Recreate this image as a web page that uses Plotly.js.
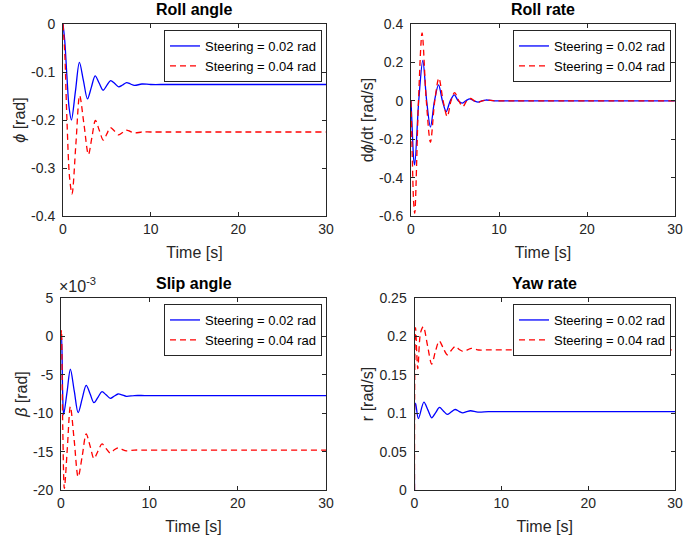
<!DOCTYPE html>
<html>
<head>
<meta charset="utf-8">
<script src="https://cdn.plot.ly/plotly-3.0.1.min.js"></script>
<style>html,body{margin:0;padding:0;background:#fff;}#chart{width:699px;height:542px;}</style>
</head>
<body>
<div id="chart"></div>
<script>
// ---- Data ----
const seriesNames = ["Steering = 0.02 rad", "Steering = 0.04 rad"];
const panelTitles = ["Roll angle", "Roll rate", "Slip angle", "Yaw rate"];
const timeTicks = [0, 10, 20, 30];

// Roll angle phi [rad]
const rollT_02 = [0, 0.2, 0.45, 0.7, 0.96, 1.42, 1.87, 2.33, 2.79, 3.23, 3.67, 4.12, 4.58, 5.0, 5.43, 5.9, 6.35, 6.8, 7.26, 7.7, 8.15, 9.0, 10, 12, 30];
const roll_02  = [0, -0.035, -0.11, -0.175, -0.2, -0.14, -0.08, -0.118, -0.156, -0.132, -0.108, -0.123, -0.138, -0.128, -0.118, -0.124, -0.131, -0.127, -0.122, -0.125, -0.128, -0.125, -0.126, -0.126, -0.126];
const rollT_04 = [0, 0.2, 0.45, 0.75, 1.03, 1.47, 1.9, 2.4, 2.9, 3.3, 3.7, 4.15, 4.6, 5.0, 5.4, 5.87, 6.35, 6.8, 7.2, 7.7, 8.2, 9.0, 10, 12, 30];
const roll_04  = [0, -0.06, -0.2, -0.32, -0.354, -0.25, -0.149, -0.21, -0.272, -0.236, -0.201, -0.222, -0.242, -0.229, -0.216, -0.223, -0.231, -0.226, -0.221, -0.224, -0.227, -0.225, -0.225, -0.225, -0.225];
const rollTicks = [0, -0.1, -0.2, -0.3, -0.4];
const rollTickText = ["0", "-0.1", "-0.2", "-0.3", "-0.4"];

// Roll rate dphi/dt [rad/s]
const rateT_02 = [0, 0.15, 0.3, 0.42, 0.88, 1.34, 1.78, 2.21, 2.67, 3.13, 3.57, 4.0, 4.46, 4.92, 5.36, 5.8, 6.24, 6.68, 7.15, 7.63, 8.05, 8.5, 9.5, 11, 30];
const rate_02  = [0, -0.16, -0.3, -0.334, 0, 0.21, 0, -0.137, 0, 0.083, 0, -0.056, 0, 0.031, 0, -0.012, 0, 0.01, 0, -0.007, 0, 0.004, 0, 0, 0];
const rateT_04 = [0, 0.15, 0.3, 0.42, 0.85, 1.26, 1.74, 2.21, 2.7, 3.17, 3.65, 4.12, 4.55, 4.96, 5.43, 5.9, 6.33, 6.76, 7.2, 7.65, 8.1, 8.6, 9.5, 11, 30];
const rate_04  = [0, -0.3, -0.53, -0.586, 0, 0.353, 0, -0.216, 0, 0.118, 0, -0.082, 0, 0.043, 0, -0.03, 0, 0.012, 0, -0.008, 0, 0.004, 0, 0, 0];
const rateTicks = [0.4, 0.2, 0, -0.2, -0.4, -0.6];
const rateTickText = ["0.4", "0.2", "0", "-0.2", "-0.4", "-0.6"];

// Slip angle beta [rad]
const slipT_02 = [0, 0.05, 0.18, 0.3, 0.68, 1.06, 1.5, 1.94, 2.4, 2.85, 3.3, 3.73, 4.2, 4.64, 5.1, 5.59, 6.0, 6.46, 6.9, 7.4, 8.3, 9.5, 12, 30];
const slip_02  = [0, 0.0002, -0.007, -0.0102, -0.0073, -0.00428, -0.0071, -0.00993, -0.0081, -0.00637, -0.0075, -0.00863, -0.0079, -0.0072, -0.0076, -0.00807, -0.0078, -0.0075, -0.0076, -0.0078, -0.0077, -0.0077, -0.0077, -0.0077];
const slipT_04 = [0, 0.05, 0.2, 0.38, 0.72, 1.06, 1.5, 1.94, 2.4, 2.85, 3.3, 3.73, 4.2, 4.64, 5.1, 5.59, 6.0, 6.46, 6.9, 7.4, 8.3, 9.5, 12, 30];
const slip_04  = [0, 0.0008, -0.012, -0.0198, -0.0145, -0.00915, -0.0136, -0.0183, -0.0156, -0.0127, -0.0143, -0.0159, -0.0149, -0.014, -0.0146, -0.0152, -0.0148, -0.0145, -0.0147, -0.0149, -0.0148, -0.0148, -0.0148, -0.0148];
const slipTicks = [0.005, 0, -0.005, -0.01, -0.015, -0.02];
const slipTickText = ["5", "0", "-5", "-10", "-15", "-20"];

// Yaw rate r [rad/s]
const yawT_02 = [0, 0.12, 0.45, 1.08, 1.55, 1.98, 2.42, 2.88, 3.32, 3.76, 4.22, 4.68, 5.12, 5.56, 6.0, 6.45, 7.3, 8.5, 10, 30];
const yaw_02  = [0, 0.113, 0.093, 0.1145, 0.104, 0.094, 0.1005, 0.1075, 0.103, 0.0985, 0.1015, 0.1048, 0.1025, 0.1005, 0.102, 0.1032, 0.1015, 0.102, 0.102, 0.102];
const yawT_04 = [0, 0.12, 0.38, 0.7, 1.02, 1.5, 1.98, 2.4, 2.85, 3.3, 3.78, 4.25, 4.72, 5.15, 5.6, 6.1, 6.55, 7.4, 8.5, 10, 30];
const yaw_04  = [0, 0.2115, 0.158, 0.205, 0.2125, 0.188, 0.164, 0.18, 0.194, 0.185, 0.176, 0.182, 0.187, 0.183, 0.1805, 0.1825, 0.1845, 0.1823, 0.1825, 0.1825, 0.1825];
const yawTicks = [0, 0.05, 0.1, 0.15, 0.2, 0.25];
const yawTickText = ["0", "0.05", "0.1", "0.15", "0.2", "0.25"];

// ---- Styling ----
const W = 699, H = 542;
const FONT = "Liberation Sans, Arial, Helvetica, sans-serif";
const AX = "#262626";
const px = v => v / W;
const py = v => 1 - v / H;

// plot areas in pixels: [left, right, top, bottom]
const areas = [[63, 326, 24, 216], [411, 675, 24, 216], [61, 326, 298, 490], [414.5, 675, 298, 490]];

const blueLine = {color: "#0000ff", width: 1.3};
const redLine = {color: "#ff0000", width: 1.3, dash: "6px,4px"};

const sets = [
  [rollT_02, roll_02, rollT_04, roll_04],
  [rateT_02, rate_02, rateT_04, rate_04],
  [slipT_02, slip_02, slipT_04, slip_04],
  [yawT_02, yaw_02, yawT_04, yaw_04]
];
const legendIds = ["legend", "legend2", "legend3", "legend4"];
const traces = [];
sets.forEach((s, i) => {
  const sfx = i === 0 ? "" : String(i + 1);
  traces.push({x: s[0], y: s[1], type: "scatter", mode: "lines", name: seriesNames[0],
    line: Object.assign({shape: "spline", smoothing: 0.9}, blueLine), xaxis: "x" + sfx, yaxis: "y" + sfx, legend: legendIds[i]});
  traces.push({x: s[2], y: s[3], type: "scatter", mode: "lines", name: seriesNames[1],
    line: Object.assign({shape: "spline", smoothing: 0.9}, redLine), xaxis: "x" + sfx, yaxis: "y" + sfx, legend: legendIds[i]});
});

const yInfo = [
  {range: [-0.4, 0], tv: rollTicks, tt: rollTickText, title: "<i>ϕ</i> [rad]"},
  {range: [-0.6, 0.4], tv: rateTicks, tt: rateTickText, title: "d<i>ϕ</i>/dt [rad/s]"},
  {range: [-0.02, 0.005], tv: slipTicks, tt: slipTickText, title: "<i>β</i> [rad]"},
  {range: [0, 0.25], tv: yawTicks, tt: yawTickText, title: "r [rad/s]"}
];

const layout = {
  width: W, height: H,
  margin: {l: 0, r: 0, t: 0, b: 0, pad: 0},
  paper_bgcolor: "#ffffff", plot_bgcolor: "#ffffff",
  font: {family: FONT, size: 14, color: AX},
  showlegend: true,
  annotations: []
};

areas.forEach((a, i) => {
  const sfx = i === 0 ? "" : String(i + 1);
  layout["xaxis" + sfx] = {
    domain: [px(a[0]), px(a[1])], anchor: "y" + sfx, range: [0, 30],
    tickmode: "array", tickvals: timeTicks, ticktext: timeTicks.map(String),
    ticks: "inside", ticklen: 4, tickcolor: AX, tickwidth: 1,
    showline: true, linecolor: AX, linewidth: 1, mirror: "ticks",
    showgrid: false, zeroline: false, automargin: false,
    tickfont: {family: FONT, size: 14, color: AX},
    title: {text: "Time [s]", font: {family: FONT, size: 16, color: AX}, standoff: 11}
  };
  layout["yaxis" + sfx] = {
    domain: [py(a[3]), py(a[2])], anchor: "x" + sfx, range: yInfo[i].range,
    tickmode: "array", tickvals: yInfo[i].tv, ticktext: yInfo[i].tt,
    ticks: "inside", ticklen: 4, tickcolor: AX, tickwidth: 1,
    showline: true, linecolor: AX, linewidth: 1, mirror: "ticks",
    showgrid: false, zeroline: false, automargin: false,
    tickfont: {family: FONT, size: 14, color: AX},
    ticklabelstandoff: 4,
    title: {text: yInfo[i].title, font: {family: FONT, size: 16, color: AX}, standoff: 1}
  };
  layout[legendIds[i]] = {
    x: px(a[1] - 4), y: py(a[2] + 6), xanchor: "right", yanchor: "top",
    bgcolor: "#ffffff", bordercolor: AX, borderwidth: 1,
    font: {family: FONT, size: 13, color: "#000000"},
    tracegroupgap: 0, itemwidth: 30
  };
  layout.annotations.push({
    text: "<b>" + panelTitles[i] + "</b>", xref: "paper", yref: "paper",
    x: px((a[0] + a[1]) / 2), y: py(a[2] - 4), xanchor: "center", yanchor: "bottom",
    showarrow: false, font: {family: FONT, size: 16, color: "#000000"}
  });
});

layout.annotations.push({
  text: "×10<sup>-3</sup>", xref: "paper", yref: "paper",
  x: px(57), y: py(297), xanchor: "left", yanchor: "bottom",
  showarrow: false, font: {family: FONT, size: 16, color: AX}
});

Plotly.newPlot("chart", traces, layout, {displayModeBar: false, staticPlot: true});
</script>
</body>
</html>
